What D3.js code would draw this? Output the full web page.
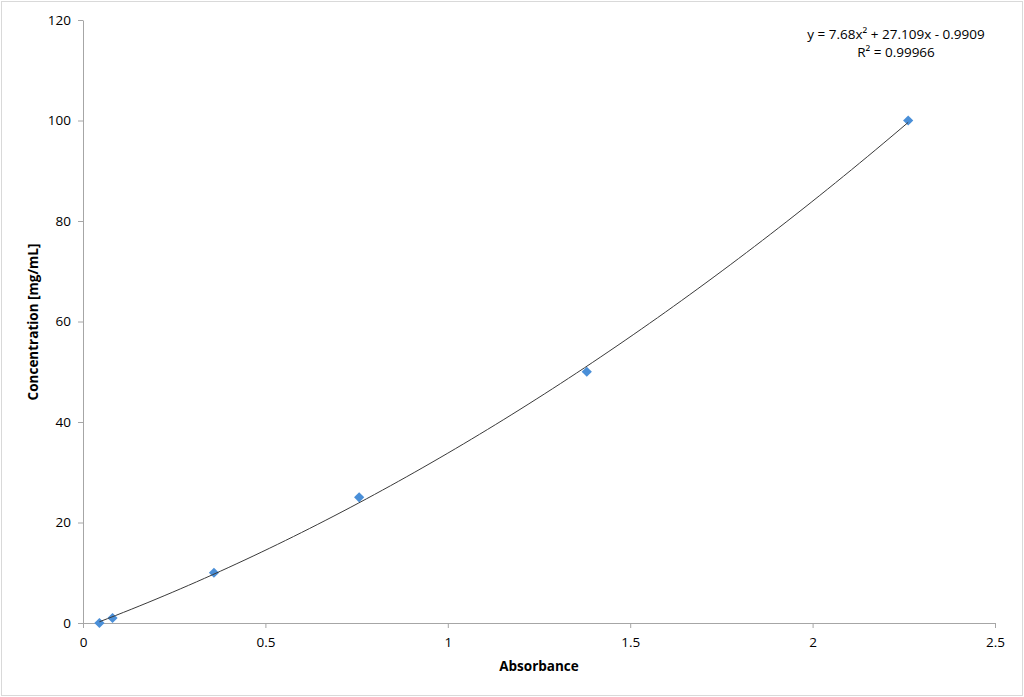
<!DOCTYPE html>
<html><head><meta charset="utf-8">
<script src="https://cdn.jsdelivr.net/npm/d3@7"></script>
<style>
html,body{margin:0;padding:0;background:#fff;}
svg text{font-family:"Open Sans","Liberation Sans",sans-serif;fill:#000;}
</style></head>
<body>
<svg id="chart" width="1024" height="697"></svg>
<script>
const absorbance = [0.045, 0.081, 0.359, 0.757, 1.381, 2.262];
const concentration = [0, 1, 10, 25, 50, 100];
const xTicks = [0, 0.5, 1, 1.5, 2, 2.5];
const yTicks = [0, 20, 40, 60, 80, 100, 120];
const fitCoef = [7.68, 27.109, -0.9909];
const eqLines = ["y = 7.68x² + 27.109x - 0.9909", "R² = 0.99966"];
const xTitle = "Absorbance";
const yTitle = "Concentration [mg/mL]";

const svg = d3.select("#chart");
svg.append("rect").attr("x",1.5).attr("y",1.5).attr("width",1021).attr("height",694)
  .attr("fill","#fff").attr("stroke","#d9d9d9").attr("stroke-width",1);

const x = d3.scaleLinear().domain([0,2.5]).range([83,995]);
const y = d3.scaleLinear().domain([0,120]).range([623,20]);
const axisColor = "#a6a6a6";

const gx = svg.append("g").attr("transform","translate(0,623)")
  .call(d3.axisBottom(x).tickValues(xTicks).tickFormat(d=>String(d)).tickSize(5).tickSizeOuter(0));
const gy = svg.append("g").attr("transform","translate(83,0)")
  .call(d3.axisLeft(y).tickValues(yTicks).tickFormat(d=>String(d)).tickSize(5).tickSizeOuter(0));
[gx,gy].forEach(g=>{
  g.select(".domain").attr("stroke",axisColor);
  g.selectAll(".tick line").attr("stroke",axisColor);
  g.selectAll(".tick text").attr("font-size",13.5).attr("fill","#000")
    .style("font-family","'Open Sans','Liberation Sans',sans-serif");
});
gx.selectAll(".tick text").attr("dy","1.2em");
gy.selectAll(".tick text").attr("x",-12);

// markers (square rotated 45° => diamond)
const sym = d3.symbol().type(d3.symbolSquare).size(52);
svg.append("g").selectAll("path").data(absorbance).join("path")
  .attr("d",sym)
  .attr("transform",(d,i)=>`translate(${x(d)},${y(concentration[i])}) rotate(45)`)
  .attr("fill","#4a8fd8");

// trendline
const x0 = d3.min(absorbance), x1 = d3.max(absorbance);
const pts = d3.range(0,101).map(i=>{
  const xv = x0 + (x1-x0)*i/100;
  return [xv, fitCoef[0]*xv*xv + fitCoef[1]*xv + fitCoef[2]];
});
svg.append("path").datum(pts)
  .attr("d", d3.line().x(d=>x(d[0])).y(d=>y(d[1])))
  .attr("fill","none").attr("stroke","#3a3a3a").attr("stroke-width",1);

// equation
svg.append("text").attr("x",896).attr("y",39).attr("text-anchor","middle").attr("font-size",13.5).text(eqLines[0]);
svg.append("text").attr("x",896).attr("y",57).attr("text-anchor","middle").attr("font-size",13.5).text(eqLines[1]);

// titles
svg.append("text").attr("x",539).attr("y",671).attr("text-anchor","middle")
  .attr("font-size",13.5).attr("font-weight","bold").text(xTitle);
svg.append("text").attr("transform","translate(38,322) rotate(-90)").attr("text-anchor","middle")
  .attr("font-size",13.5).attr("font-weight","bold").text(yTitle);
</script>
</body></html>
